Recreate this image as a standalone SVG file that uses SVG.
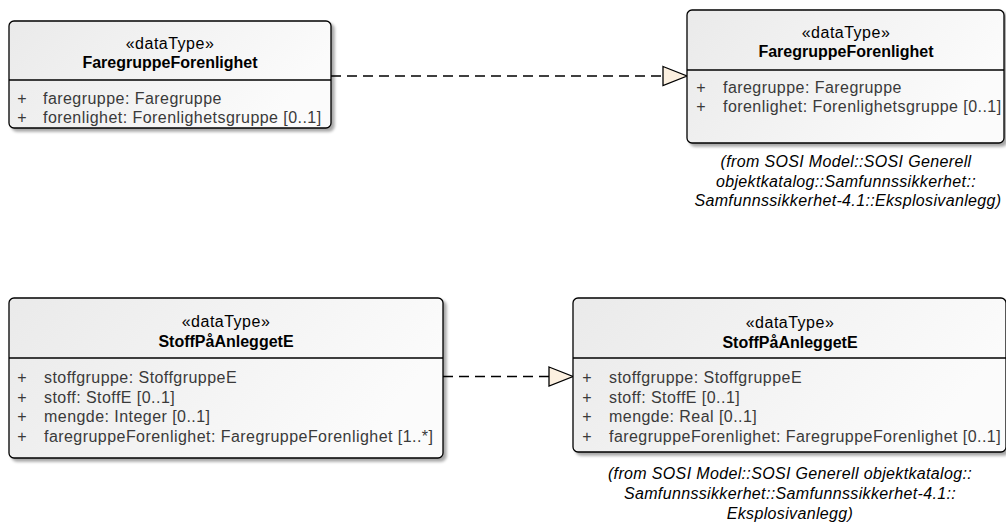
<svg xmlns="http://www.w3.org/2000/svg" width="1006" height="526" viewBox="0 0 1006 526">
<defs>
<linearGradient id="fill" x1="0" y1="0" x2="1" y2="0.3">
<stop offset="0" stop-color="#eaeaea"/>
<stop offset="1" stop-color="#fbfbfb"/>
</linearGradient>
<filter id="sh" x="-5%" y="-5%" width="115%" height="120%">
<feGaussianBlur in="SourceAlpha" stdDeviation="1.5"/>
<feOffset dx="3" dy="3" result="b"/>
<feComponentTransfer><feFuncA type="linear" slope="0.35"/></feComponentTransfer>
<feMerge><feMergeNode/><feMergeNode in="SourceGraphic"/></feMerge>
</filter>
</defs>
<style>
.box{fill:url(#fill);stroke:#000;stroke-width:1.3}
.div{stroke:#000;stroke-width:1.3}
text{font-family:"Liberation Sans",Arial,sans-serif;font-size:16px}
.st{text-anchor:middle;fill:#000;letter-spacing:0.5px}
.nm{text-anchor:middle;font-weight:bold;fill:#000}
.at{fill:#3a3a3a;letter-spacing:0.45px}
.pl{fill:#3a3a3a;text-anchor:middle}
.note{font-style:italic;text-anchor:middle;fill:#000;letter-spacing:0.35px}
.dep{fill:none;stroke:#000;stroke-width:1.3;stroke-dasharray:10,6}
.head{fill:#fcf0e0;stroke:#000;stroke-width:1.3}
</style>
<g id="connectors">
<line class="dep" x1="331" y1="76" x2="663" y2="76"/>
<polygon class="head" points="663,66.5 687,76 663,85.5"/>
<line class="dep" x1="443" y1="376.5" x2="549" y2="376.5"/>
<polygon class="head" points="549,367 573,376.5 549,386"/>
</g>
<g id="FaregruppeForenlighet_left">
<rect class="box" x="9" y="21" width="322" height="107" rx="5" filter="url(#sh)"/>
<line class="div" x1="9" y1="80" x2="331" y2="80"/>
<text class="st" x="170" y="48.5">«dataType»</text>
<text class="nm" x="170" y="68">FaregruppeForenlighet</text>
<text class="pl" x="22" y="103.5">+</text>
<text class="at" x="43" y="103.5">faregruppe: Faregruppe</text>
<text class="pl" x="22" y="122.5">+</text>
<text class="at" x="43" y="122.5">forenlighet: Forenlighetsgruppe [0..1]</text>
</g>
<g id="FaregruppeForenlighet_right">
<rect class="box" x="687" y="10" width="317" height="133" rx="5" filter="url(#sh)"/>
<line class="div" x1="687" y1="70" x2="1004" y2="70"/>
<text class="st" x="846" y="37.5">«dataType»</text>
<text class="nm" x="846" y="57">FaregruppeForenlighet</text>
<text class="pl" x="701" y="92.5">+</text>
<text class="at" x="723" y="92.5">faregruppe: Faregruppe</text>
<text class="pl" x="701" y="112">+</text>
<text class="at" x="723" y="112">forenlighet: Forenlighetsgruppe [0..1]</text>
<text class="note" x="846" y="167">(from SOSI Model::SOSI Generell</text>
<text class="note" x="846" y="187">objektkatalog::Samfunnssikkerhet::</text>
<text class="note" x="848" y="206">Samfunnssikkerhet-4.1::Eksplosivanlegg)</text>
</g>
<g id="StoffPaAnleggetE_left">
<rect class="box" x="9" y="298" width="434" height="160" rx="5" filter="url(#sh)"/>
<line class="div" x1="9" y1="358" x2="443" y2="358"/>
<text class="st" x="226" y="327">«dataType»</text>
<text class="nm" x="226" y="347">StoffPåAnleggetE</text>
<text class="pl" x="22" y="382.5">+</text>
<text class="at" x="44" y="382.5">stoffgruppe: StoffgruppeE</text>
<text class="pl" x="22" y="402.5">+</text>
<text class="at" x="44" y="402.5">stoff: StoffE [0..1]</text>
<text class="pl" x="22" y="422">+</text>
<text class="at" x="44" y="422">mengde: Integer [0..1]</text>
<text class="pl" x="22" y="441.5">+</text>
<text class="at" x="44" y="441.5">faregruppeForenlighet: FaregruppeForenlighet [1..*]</text>
</g>
<g id="StoffPaAnleggetE_right">
<rect class="box" x="573" y="298" width="433" height="154" rx="5" filter="url(#sh)"/>
<line class="div" x1="573" y1="358" x2="1006" y2="358"/>
<text class="st" x="790" y="327.5">«dataType»</text>
<text class="nm" x="790" y="347.5">StoffPåAnleggetE</text>
<text class="pl" x="587" y="382.5">+</text>
<text class="at" x="609" y="382.5">stoffgruppe: StoffgruppeE</text>
<text class="pl" x="587" y="402.5">+</text>
<text class="at" x="609" y="402.5">stoff: StoffE [0..1]</text>
<text class="pl" x="587" y="422">+</text>
<text class="at" x="609" y="422">mengde: Real [0..1]</text>
<text class="pl" x="587" y="441.5">+</text>
<text class="at" x="609" y="441.5">faregruppeForenlighet: FaregruppeForenlighet [0..1]</text>
<text class="note" x="790" y="479">(from SOSI Model::SOSI Generell objektkatalog::</text>
<text class="note" x="790" y="499">Samfunnssikkerhet::Samfunnssikkerhet-4.1::</text>
<text class="note" x="790" y="519">Eksplosivanlegg)</text>
</g>
</svg>
